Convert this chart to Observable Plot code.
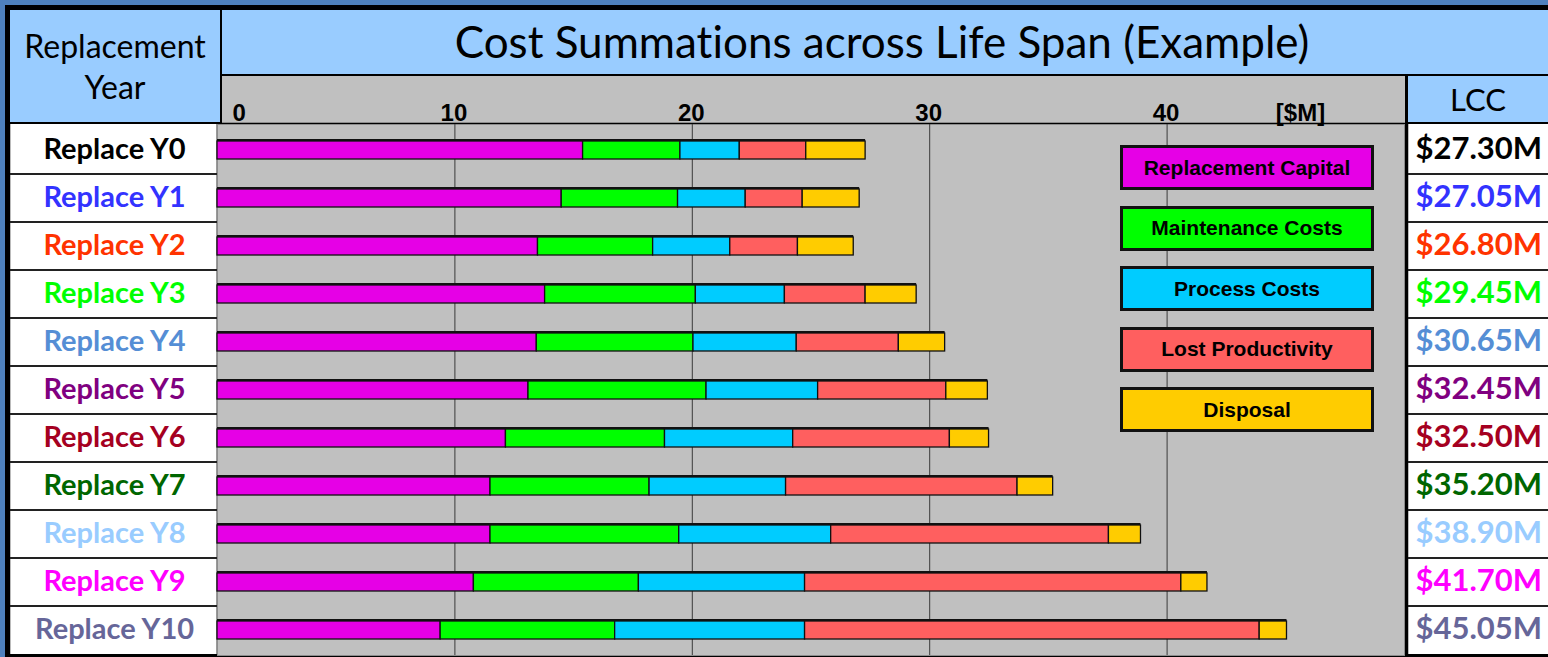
<!DOCTYPE html>
<html>
<head>
<meta charset="utf-8">
<script src="https://cdn.jsdelivr.net/npm/d3@7"></script>
<script src="https://cdn.jsdelivr.net/npm/@observablehq/plot@0.6"></script>
<style>
  html, body { margin: 0; padding: 0; background: #4f81bd; }
  #wrap { position: relative; width: 1548px; height: 657px; overflow: hidden; background: #4f81bd; }
  .abs { position: absolute; box-sizing: border-box; }
  .hdr { font-family: Lato, "Open Sans", sans-serif; color: #000; text-align: center; font-variant-ligatures: none; }
  .legbox { position: absolute; box-sizing: border-box; border: 3px solid #111; display: flex; align-items: center; justify-content: center;
            font-family: "Liberation Sans", Arial, sans-serif; font-weight: bold; font-size: 21px; color: #000; }
  #plot { position: absolute; left: 0; top: 0; z-index: 2; font-variant-ligatures: none; }
  #legend { position: absolute; left: 0; top: 0; z-index: 3; }
</style>
</head>
<body>
<div id="wrap"></div>
<script>
// ---------- data ----------
const years = ["Y0","Y1","Y2","Y3","Y4","Y5","Y6","Y7","Y8","Y9","Y10"];
const rowLabels = ["Replace Y0","Replace Y1","Replace Y2","Replace Y3","Replace Y4","Replace Y5","Replace Y6","Replace Y7","Replace Y8","Replace Y9","Replace Y10"];
const rowColors = ["#000000","#3333ff","#ff3300","#00ff00","#558ed5","#800080","#a50021","#006600","#99ccff","#ff00ff","#666699"];
const categories = ["Replacement Capital","Maintenance Costs","Process Costs","Lost Productivity","Disposal"];
const categoryColors = ["#e600e6","#00ff00","#00ccff","#ff5f5f","#ffcc00"];
const replacementCapital = [15.4,14.5,13.5,13.8,13.45,13.1,12.15,11.5,11.5,10.8,9.4];
const maintenanceCosts   = [4.1,4.9,4.85,6.35,6.6,7.5,6.7,6.7,7.95,6.95,7.35];
const processCosts       = [2.5,2.85,3.25,3.75,4.35,4.7,5.4,5.75,6.4,7.0,8.0];
const lostProductivity   = [2.8,2.4,2.85,3.4,4.3,5.4,6.6,9.75,11.7,15.85,19.15];
const disposal           = [2.5,2.4,2.35,2.15,1.95,1.75,1.65,1.5,1.35,1.1,1.15];
const lcc = [27.30,27.05,26.80,29.45,30.65,32.45,32.50,35.20,38.90,41.70,45.05];
const xTicks = [0,10,20,30,40];
const unitLabel = "[$M]";
const title = "Cost Summations across Life Span (Example)";
const leftHeader = ["Replacement","Year"];
const rightHeader = "LCC";

// ---------- build table ----------
const series = [replacementCapital, maintenanceCosts, processCosts, lostProductivity, disposal];
const colorOf = Object.fromEntries(categories.map((c, i) => [c, categoryColors[i]]));
const long = [];
years.forEach((y, i) => categories.forEach((c, j) => long.push({year: y, category: c, value: series[j][i]})));
const totals = years.map((y, i) => ({year: y, lcc: lcc[i], label: rowLabels[i], color: rowColors[i]}));

const W = 1548, H = 657;
const plot = Plot.plot({
  width: W, height: H,
  marginLeft: 217, marginRight: 144, marginTop: 124, marginBottom: 2,
  style: {background: "transparent", overflow: "visible"},
  x: {domain: [0, 50], axis: null},
  y: {domain: years, paddingInner: 0.628, paddingOuter: 0.314, axis: null},
  color: {type: "identity"},
  marks: [
    Plot.frame({fill: "#c0c0c0", stroke: "#8c8c8c", strokeWidth: 1}),
    Plot.ruleX(xTicks.filter(d => d > 0), {stroke: "#3a3a3a", strokeWidth: 1}),
    Plot.barX(totals, {x1: 0, x2: "lcc", y: "year", fill: "#111", dy: -2}),
    Plot.barX(long, Plot.stackX({x: "value", y: "year", fill: d => colorOf[d.category], stroke: "#111", strokeWidth: 1.3})),
    Plot.text(xTicks.filter(d => d === 0), {x: d => d, text: d => String(d), frameAnchor: "top", dy: -21, dx: 15, textAnchor: "start",
      fontFamily: "Liberation Sans, Arial, sans-serif", fontWeight: "bold", fontSize: 24, fill: "#000"}),
    Plot.text(xTicks.filter(d => d > 0), {x: d => d, text: d => String(d), frameAnchor: "top", dy: -21, dx: -1,
      fontFamily: "Liberation Sans, Arial, sans-serif", fontWeight: "bold", fontSize: 24, fill: "#000"}),
    Plot.text([unitLabel], {text: d => d, frameAnchor: "top-right", dy: -21, dx: -104, textAnchor: "middle",
      fontFamily: "Liberation Sans, Arial, sans-serif", fontWeight: "bold", fontSize: 24, fill: "#000"}),
    Plot.text(totals, {y: "year", text: "label", fill: "color", frameAnchor: "left", dx: -103, dy: -1, textAnchor: "middle",
      fontFamily: "Lato, sans-serif", fontWeight: "bold", fontSize: 29}),
    Plot.text(totals, {y: "year", text: d => "$" + d.lcc.toFixed(2) + "M", fill: "color", frameAnchor: "right", dx: 11, dy: -1, textAnchor: "start",
      fontFamily: "Lato, sans-serif", fontWeight: "bold", fontSize: 31})
  ]
});
plot.id = "plot";

// ---------- background cells ----------
const wrap = document.getElementById("wrap");
function box(x, y, w, h, bg, extra) {
  const d = document.createElement("div");
  d.className = "abs";
  Object.assign(d.style, {left: x + "px", top: y + "px", width: w + "px", height: h + "px", background: bg}, extra || {});
  wrap.appendChild(d);
  return d;
}
box(5, 5, W - 5, H - 5, "#000");                 // black frame lines
box(10, 10, 210, 112, "#99ccff");                // left header
box(222, 10, W - 222, 64, "#99ccff");            // title cell
box(222, 76, 1183, 47, "#c0c0c0", {borderBottom: "1px solid #8c8c8c"}); // axis label strip
box(1408, 76, W - 1408, 46, "#99ccff");          // LCC header

const ys = plot.scale("y");
const step = ys.step;
const top0 = 124, bottom0 = 654;
box(10, top0, 207, bottom0 - top0, "#fff", {borderLeft: "1px solid #bbb", borderRight: "1px solid #999"});
box(1408, top0, W - 1408, bottom0 - top0, "#fff", {borderLeft: "1px solid #bbb"});
box(217, top0, 1, bottom0 - top0, "#c0c0c0");
years.slice(1).forEach(y => {
  const yb = ys.apply(y) + ys.bandwidth / 2 - step / 2;
  box(10, Math.round(yb) - 1, 207, 2, "#222");
  box(1408, Math.round(yb) - 1, W - 1408, 2, "#222");
});

const lh = box(10, 10, 210, 112, "transparent", {display: "flex", flexDirection: "column", justifyContent: "center"});
lh.className = "abs hdr";
lh.style.fontSize = "32px"; lh.style.lineHeight = "41px";
lh.innerHTML = leftHeader.join("<br>");
const th = box(222, 10, W - 222, 64, "transparent", {display: "flex", alignItems: "center", justifyContent: "center"});
th.className = "abs hdr";
th.style.fontSize = "44px";
th.innerHTML = '<span style="position:relative; left:-3px; top:-1px">' + title + '</span>';
const rh = box(1408, 76, W - 1408, 46, "transparent", {display: "flex", alignItems: "center", justifyContent: "center"});
rh.className = "abs hdr";
rh.style.fontSize = "31px";
rh.textContent = rightHeader;

wrap.appendChild(plot);

// ---------- legend ----------
const legend = document.createElement("div");
legend.id = "legend";
categories.forEach((c, i) => {
  const d = document.createElement("div");
  d.className = "legbox";
  Object.assign(d.style, {left: "1120px", top: (145 + i * 60.5) + "px", width: "254px", height: "45px", background: categoryColors[i]});
  d.textContent = c;
  legend.appendChild(d);
});
wrap.appendChild(legend);
</script>
</body>
</html>
